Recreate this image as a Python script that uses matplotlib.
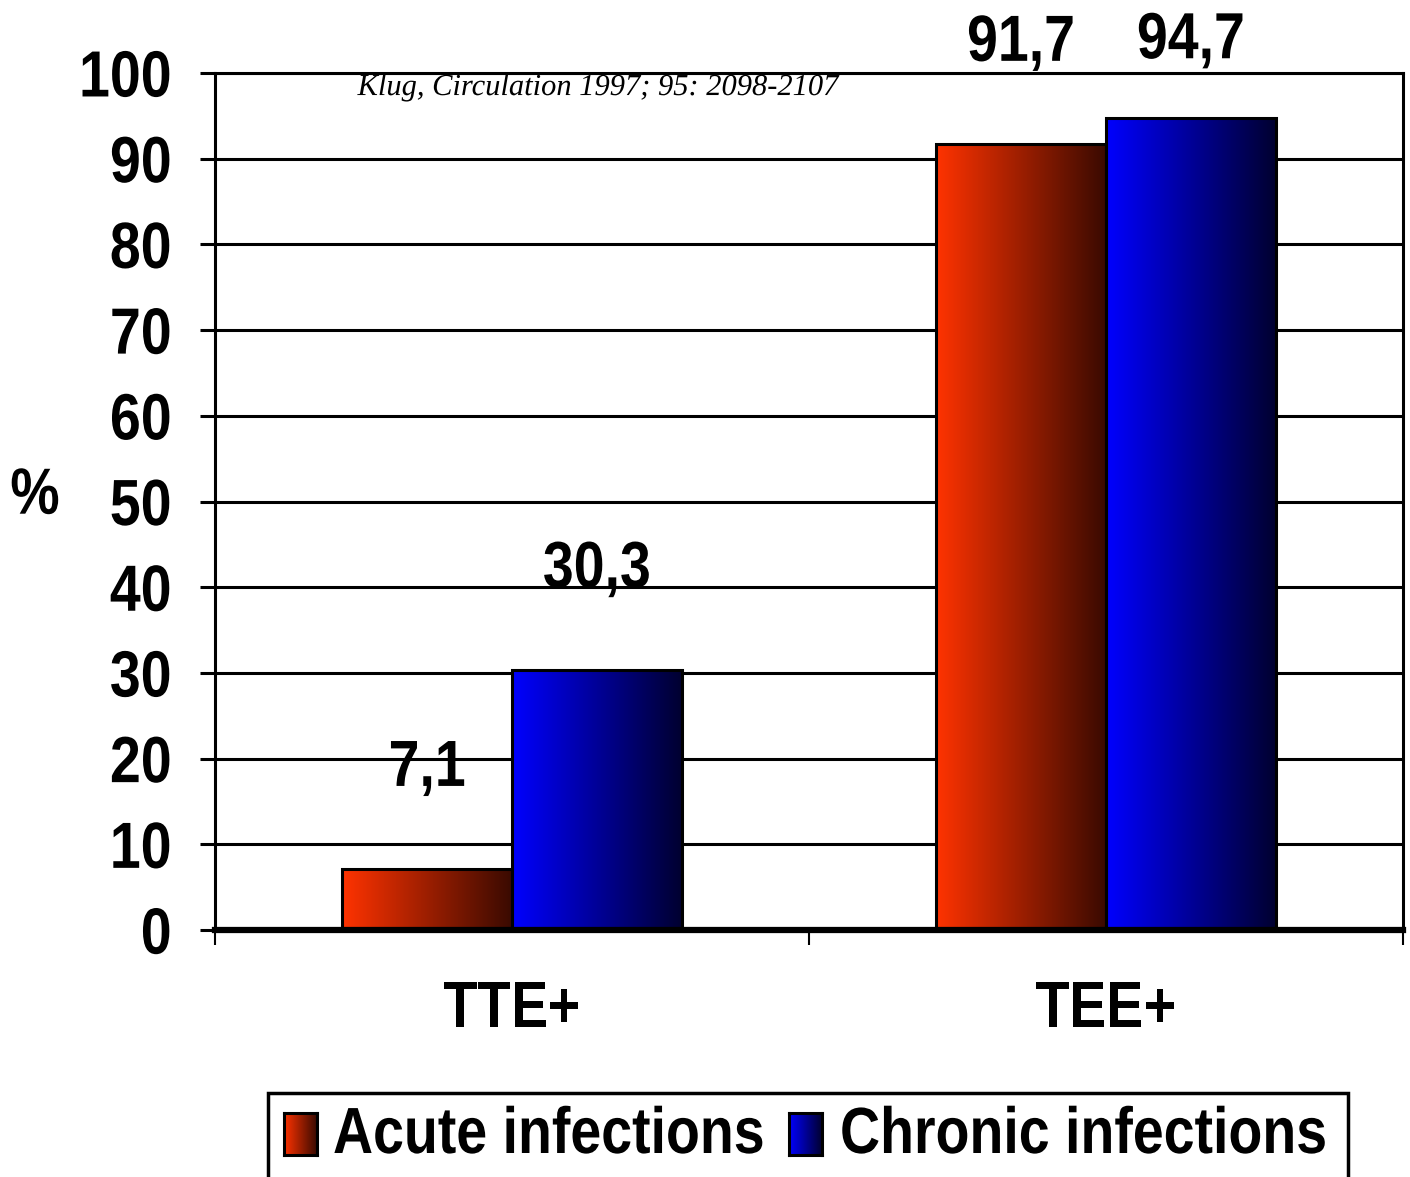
import numpy as np
import matplotlib
matplotlib.use("Agg")
import matplotlib.pyplot as plt
from matplotlib.colors import LinearSegmentedColormap
from matplotlib.patches import Rectangle
from matplotlib.patheffects import AbstractPathEffect
from matplotlib.transforms import Affine2D

categories = ["TTE+", "TEE+"]
series_names = ["Acute infections", "Chronic infections"]
acute = [7.1, 91.7]
chronic = [30.3, 94.7]
value_labels = [["7,1", "91,7"], ["30,3", "94,7"]]
yticks = [0, 10, 20, 30, 40, 50, 60, 70, 80, 90, 100]
citation = "Klug, Circulation 1997; 95: 2098-2107"

plt.rcParams["font.family"] = ["Liberation Sans", "DejaVu Sans"]
FS = 47


class Squeeze(AbstractPathEffect):
    """No narrow font is installed, so compress the text path horizontally."""

    def __init__(self, sx=0.85, anchor="center"):
        super().__init__()
        self.sx, self.anchor = sx, anchor

    def draw_path(self, renderer, gc, tpath, affine, rgbFace=None):
        ext = tpath.get_extents()
        cx = {"left": 0.0, "center": (ext.x0 + ext.x1) / 2, "right": ext.x1}[self.anchor]
        t = Affine2D().translate(-cx, 0).scale(self.sx, 1).translate(cx, 0) + affine
        renderer.draw_path(gc, tpath, t, rgbFace)


cmaps = [LinearSegmentedColormap.from_list("acute", ["#ff3300", "#3a0a00"]),
         LinearSegmentedColormap.from_list("chronic", ["#0000ff", "#000030"])]
grad = np.linspace(0, 1, 256).reshape(1, -1)

fig = plt.figure(figsize=(14.1, 11.77), dpi=100)
ax = fig.add_axes([0.1525, 0.2098, 0.8425, 0.7282])

x = np.arange(len(categories))
w = 0.286
for i, vals in enumerate([acute, chronic]):
    bars = ax.bar(x + (i - 0.5) * w, vals, w, facecolor="none", edgecolor="black",
                  linewidth=2.2, zorder=3)
    for b, lab in zip(bars, value_labels[i]):
        x0, h = b.get_x(), b.get_height()
        ax.imshow(grad, extent=[x0, x0 + b.get_width(), 0, h], aspect="auto",
                  cmap=cmaps[i], zorder=2, interpolation="bicubic")
        ax.text(x0 + b.get_width() / 2, min(h + 11.7, 103.7), lab, ha="center", va="center",
                fontsize=FS, fontweight="bold", zorder=4, clip_on=False,
                path_effects=[Squeeze(anchor="center")])

ax.set_xlim(-0.5, 1.5)
ax.set_ylim(0, 100)
ax.set_yticks(yticks)
ax.set_yticklabels([str(t) for t in yticks], fontsize=FS, fontweight="bold")
ax.tick_params(axis="y", length=11, width=2.2, pad=20, direction="out")
ax.set_xticks([-0.5, 0.5, 1.5])
ax.set_xticklabels([])
ax.tick_params(axis="x", which="major", length=11, width=1.5, direction="out")
ax.set_xticks(x, minor=True)
ax.set_xticklabels(categories, minor=True, fontsize=FS, fontweight="bold")
ax.tick_params(axis="x", which="minor", length=0, pad=36)
for lab in ax.get_yticklabels():
    lab.set_path_effects([Squeeze(anchor="right")])
for lab in ax.get_xticklabels(minor=True):
    lab.set_path_effects([Squeeze(anchor="center")])

ax.yaxis.grid(True, color="black", linewidth=2.2)
ax.set_axisbelow(True)
for s in ["left", "right", "top"]:
    ax.spines[s].set_linewidth(2.2)
ax.spines["bottom"].set_linewidth(4.5)

# citation: serif italic, fitted to the reference width (~480 px)
cit = ax.text(0.120, 0.983, citation, transform=ax.transAxes, fontsize=22, style="italic",
              va="center", family=["Liberation Serif", "DejaVu Serif"], zorder=5)
cw = cit.get_window_extent(renderer=fig.canvas.get_renderer()).width
cit.set_path_effects([Squeeze(sx=480 / cw, anchor="left")])

fig.text(0.0248, 0.578, "%", fontsize=FS, fontweight="bold", ha="center", va="center",
         path_effects=[Squeeze(anchor="center")])

# legend drawn by hand so the swatches can carry the gradient
fig.patches.append(Rectangle((268 / 1410, -0.05), 1080 / 1410, 0.05 + 1 - 1093 / 1177,
                             transform=fig.transFigure, fill=False, edgecolor="black",
                             linewidth=2.5))
for i, (name, px, tx) in enumerate(zip(series_names, [284, 789], [333, 840])):
    sw = fig.add_axes([px / 1410, 1 - 1155 / 1177, 33 / 1410, 42 / 1177])
    sw.imshow(grad, aspect="auto", cmap=cmaps[i])
    sw.set_xticks([]); sw.set_yticks([])
    for s in sw.spines.values():
        s.set_linewidth(2.2)
    fig.text(tx / 1410, 1 - 1136 / 1177, name, fontsize=FS, fontweight="bold",
             ha="left", va="center", path_effects=[Squeeze(anchor="left")])

fig.savefig("out.png", dpi=100)
